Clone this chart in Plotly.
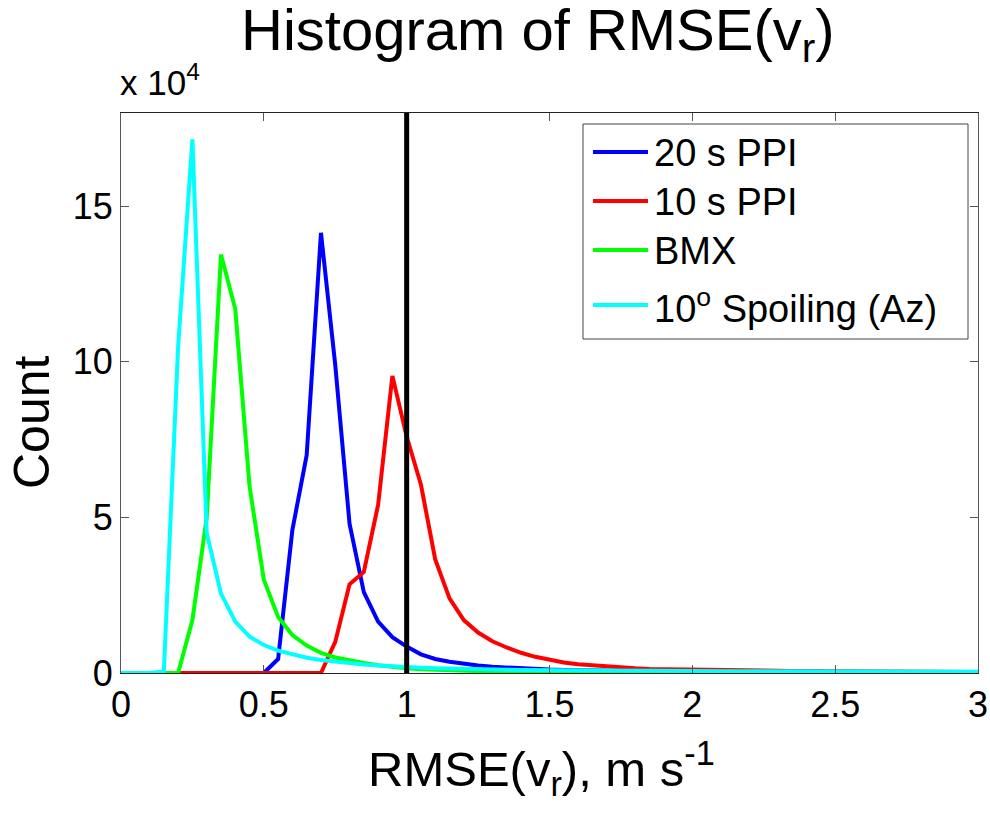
import plotly.graph_objects as go

# Bin centres (RMSE(v_r), m s^-1)
bins = [0.00, 0.05, 0.10, 0.15, 0.20, 0.25, 0.30, 0.35, 0.40, 0.45,
        0.50, 0.55, 0.60, 0.65, 0.70, 0.75, 0.80, 0.85, 0.90, 0.95,
        1.00, 1.05, 1.10, 1.15, 1.20, 1.25, 1.30, 1.35, 1.40, 1.45,
        1.50, 1.55, 1.60, 1.65, 1.70, 1.75, 1.80, 1.85, 1.90, 1.95,
        2.00, 2.05, 2.10, 2.15, 2.20, 2.25, 2.30, 2.35, 2.40, 2.45,
        2.50, 2.55, 2.60, 2.65, 2.70, 2.75, 2.80, 2.85, 2.90, 2.95, 3.00]

# Counts in units of 10^4
ppi20 = [0, 0, 0, 0, 0, 0, 0, 0, 0, 0,
         0, 0.45, 4.6, 7.0, 14.15, 9.9, 4.8, 2.6, 1.65, 1.15,
         0.85, 0.6, 0.45, 0.36, 0.29, 0.24, 0.2, 0.17, 0.15, 0.13,
         0.11, 0.1, 0.09, 0.08, 0.07, 0.065, 0.06, 0.055, 0.05, 0.045,
         0.04, 0.04, 0.035, 0.035, 0.03, 0.03, 0.03, 0.025, 0.025, 0.025,
         0.02, 0.02, 0.02, 0.02, 0.015, 0.015, 0.015, 0.015, 0.01, 0.01, 0.01]

ppi10 = [0, 0, 0, 0, 0, 0, 0, 0, 0, 0,
         0, 0, 0, 0, 0, 1.0, 2.85, 3.25, 5.4, 9.55,
         7.6, 6.05, 3.65, 2.4, 1.7, 1.3, 1.02, 0.82, 0.65, 0.52,
         0.42, 0.34, 0.28, 0.24, 0.2, 0.17, 0.15, 0.13, 0.12, 0.11,
         0.1, 0.09, 0.085, 0.08, 0.075, 0.075, 0.07, 0.065, 0.06, 0.055,
         0.05, 0.05, 0.045, 0.045, 0.04, 0.04, 0.035, 0.035, 0.03, 0.03, 0.03]

bmx = [0, 0, 0, 0, 0, 1.7, 5.0, 13.45, 11.7, 6.0,
       3.0, 1.8, 1.22, 0.88, 0.65, 0.5, 0.4, 0.32, 0.25, 0.19,
       0.15, 0.12, 0.1, 0.08, 0.06, 0.05, 0.04, 0.03, 0.02, 0.015,
       0.01, 0.008, 0.006, 0.005, 0.004, 0.003, 0.002, 0, 0, 0,
       0, 0, 0, 0, 0, 0, 0, 0, 0, 0,
       0, 0, 0, 0, 0, 0, 0, 0, 0, 0, 0]

spoil = [0, 0, 0, 0.05, 10.5, 17.15, 4.5, 2.55, 1.65, 1.17,
         0.9, 0.72, 0.59, 0.49, 0.42, 0.36, 0.31, 0.27, 0.24, 0.21,
         0.19, 0.17, 0.155, 0.14, 0.13, 0.12, 0.11, 0.105, 0.1, 0.095,
         0.09, 0.085, 0.08, 0.078, 0.075, 0.072, 0.07, 0.068, 0.066, 0.064,
         0.062, 0.06, 0.06, 0.058, 0.057, 0.055, 0.055, 0.053, 0.052, 0.05,
         0.05, 0.049, 0.048, 0.046, 0.045, 0.045, 0.044, 0.043, 0.042, 0.041, 0.04]

series_names = ["20 s PPI", "10 s PPI", "BMX", "10<sup>o</sup> Spoiling (Az)"]
series_colors = ["#0000FF", "#FF0000", "#00FF00", "#00FFFF"]
series_vals = [ppi20, ppi10, bmx, spoil]
scale = 1e4

threshold_x = 1.0
y_tick_vals = [0, 5, 10, 15]
x_tick_vals = [0, 0.5, 1, 1.5, 2, 2.5, 3]
x_tick_text = ["0", "0.5", "1", "1.5", "2", "2.5", "3"]

FONT = "Liberation Sans, Arial, Helvetica, sans-serif"

# plot area in pixels (for paper-coordinate helpers)
L, R, T, B = 121, 978, 113, 673
def px(x):
    return (x - L) / (R - L)
def py(y):
    return (B - y) / (B - T)

fig = go.Figure()
for name, col, vals in zip(series_names, series_colors, series_vals):
    fig.add_trace(go.Scatter(
        x=bins, y=[v * scale for v in vals], mode="lines", name=name,
        line=dict(color=col, width=4), showlegend=False))

fig.add_shape(type="line", xref="x", yref="paper", x0=threshold_x, x1=threshold_x,
              y0=0, y1=1, line=dict(color="black", width=5))

fig.update_layout(
    width=990, height=813,
    margin=dict(l=L, r=990 - R, t=T, b=813 - B, autoexpand=False),
    paper_bgcolor="white", plot_bgcolor="white",
    font=dict(family=FONT, color="black"),
    showlegend=False,
    xaxis=dict(range=[0, 3], tickvals=x_tick_vals, ticktext=x_tick_text,
               ticks="inside", ticklen=8, tickcolor="#555", automargin=False,
               showline=True, linecolor="#222", linewidth=1, mirror="ticks",
               showgrid=False, zeroline=False, tickfont=dict(size=36)),
    yaxis=dict(range=[0, 18 * scale], tickvals=[v * scale for v in y_tick_vals],
               ticktext=[str(v) for v in y_tick_vals], automargin=False,
               ticks="inside", ticklen=8, tickcolor="#555",
               showline=True, linecolor="#555", linewidth=1, mirror="ticks",
               showgrid=False, zeroline=False, tickfont=dict(size=36)),
)

# Title
fig.add_annotation(text="Histogram of RMSE(v<sub>r</sub>)", xref="paper", yref="paper",
                   x=px(538), y=py(34), xanchor="center", yanchor="middle",
                   showarrow=False, font=dict(size=58))
# Axis labels
fig.add_annotation(text="Count", textangle=-90, xref="paper", yref="paper",
                   x=px(32), y=py(422), showarrow=False, font=dict(size=50),
                   xanchor="center", yanchor="middle")
fig.add_annotation(text="x 10<sup>4</sup>", xref="paper", yref="paper",
                   x=px(118), y=py(104), xanchor="left", yanchor="bottom",
                   showarrow=False, font=dict(size=35))
fig.add_annotation(text="RMSE(v<sub>r</sub>), m s<sup>-1</sup>", xref="paper", yref="paper",
                   x=px(541), y=py(768), xanchor="center", yanchor="middle",
                   showarrow=False, font=dict(size=49))

# Legend box (drawn manually to match the sample-line length of the original)
fig.add_shape(type="rect", xref="paper", yref="paper",
              x0=px(583), x1=px(968), y0=py(339), y1=py(124),
              fillcolor="white", line=dict(color="#444", width=1))
row_y = [152, 201, 250, 305]
for name, col, yy in zip(series_names, series_colors, row_y):
    fig.add_shape(type="line", xref="paper", yref="paper",
                  x0=px(593), x1=px(648), y0=py(yy), y1=py(yy),
                  line=dict(color=col, width=4))
    fig.add_annotation(text=name, xref="paper", yref="paper",
                       x=px(652), y=py(yy + 1), xanchor="left", yanchor="middle",
                       showarrow=False, font=dict(size=38))

fig.write_html("out.html")
